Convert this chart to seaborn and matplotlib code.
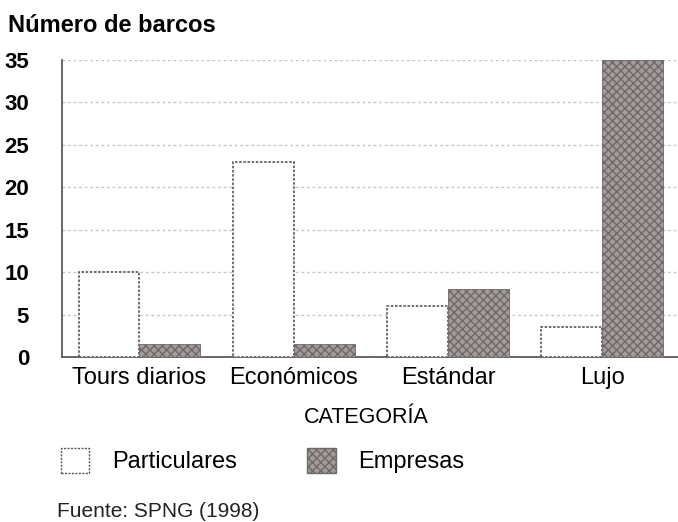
import matplotlib
matplotlib.use("Agg")
import matplotlib.pyplot as plt
import seaborn as sns
import pandas as pd
from matplotlib.patches import Patch

categorias = ['Tours diarios', 'Económicos', 'Estándar', 'Lujo']
particulares = [10, 23, 6, 3.5]
empresas = [1.5, 1.5, 8, 35]
series = ['Particulares', 'Empresas']
y_ticks = [0, 5, 10, 15, 20, 25, 30, 35]

sns.set_theme(style='white')
plt.rcParams['font.family'] = ['Liberation Sans', 'DejaVu Sans']
plt.rcParams['text.color'] = 'black'
plt.rcParams['xtick.color'] = 'black'
plt.rcParams['ytick.color'] = 'black'

df = pd.DataFrame({
    'categoria': categorias * 2,
    'serie': [series[0]] * len(categorias) + [series[1]] * len(categorias),
    'barcos': particulares + empresas,
})

fig = plt.figure(figsize=(6.78, 5.22), dpi=100)
ax = fig.add_axes([0.092, 0.316, 0.91, 0.569])

colores = {'Particulares': 'white', 'Empresas': '#a29b99'}
sns.barplot(data=df, x='categoria', y='barcos', hue='serie', palette=colores,
            width=0.79, ax=ax, legend=False, saturation=1)

n = len(categorias)
for i, bar in enumerate(ax.patches[:2 * n]):
    if i < n:
        bar.set_edgecolor('#555555')
        bar.set_linestyle((0, (1.5, 1)))
        bar.set_linewidth(1.2)
    else:
        bar.set_edgecolor('#6f6868')
        bar.set_hatch('xxxx')
        bar.set_linewidth(0.6)
    bar.set_zorder(3)

ax.set_xlim(-0.5, n - 0.5)
ax.set_ylim(0, 35)
ax.set_yticks(y_ticks)
ax.yaxis.grid(True, color='#c9c3cf', linestyle=(0, (2, 2)), linewidth=1)
ax.set_axisbelow(True)
for s in ['top', 'right']:
    ax.spines[s].set_visible(False)
ax.spines['left'].set_color('#555555')
ax.spines['left'].set_linestyle((0, (1.5, 1)))
ax.spines['bottom'].set_color('#555555')
ax.spines['bottom'].set_linestyle((0, (1.5, 1)))
ax.tick_params(axis='y', labelsize=16, length=0, pad=24)
ax.tick_params(axis='x', labelsize=17, length=0, pad=7)
for t in ax.get_yticklabels():
    t.set_fontweight('bold')
ax.set_xlabel('')
ax.set_ylabel('')

fig.text(0.012, 0.952, 'Número de barcos', fontsize=17, fontweight='bold', va='center')
fig.text(0.54, 0.2, 'CATEGORÍA', fontsize=15.5, ha='center', va='center')

handles = [Patch(facecolor='white', edgecolor='#555555', linestyle=(0, (1.5, 1)), label=series[0]),
           Patch(facecolor='#a29b99', edgecolor='#6f6868', hatch='xxxx', label=series[1])]
fig.legend(handles=handles, loc='center left', bbox_to_anchor=(0.09, 0.118), ncol=2,
           frameon=False, fontsize=17, handlelength=1.2, handleheight=1.25,
           columnspacing=3.0, handletextpad=0.95, borderaxespad=0, borderpad=0)

fig.text(0.084, 0.02, 'Fuente: SPNG (1998)', fontsize=15, color='#222222', va='center')

fig.savefig('out.png', dpi=100)
